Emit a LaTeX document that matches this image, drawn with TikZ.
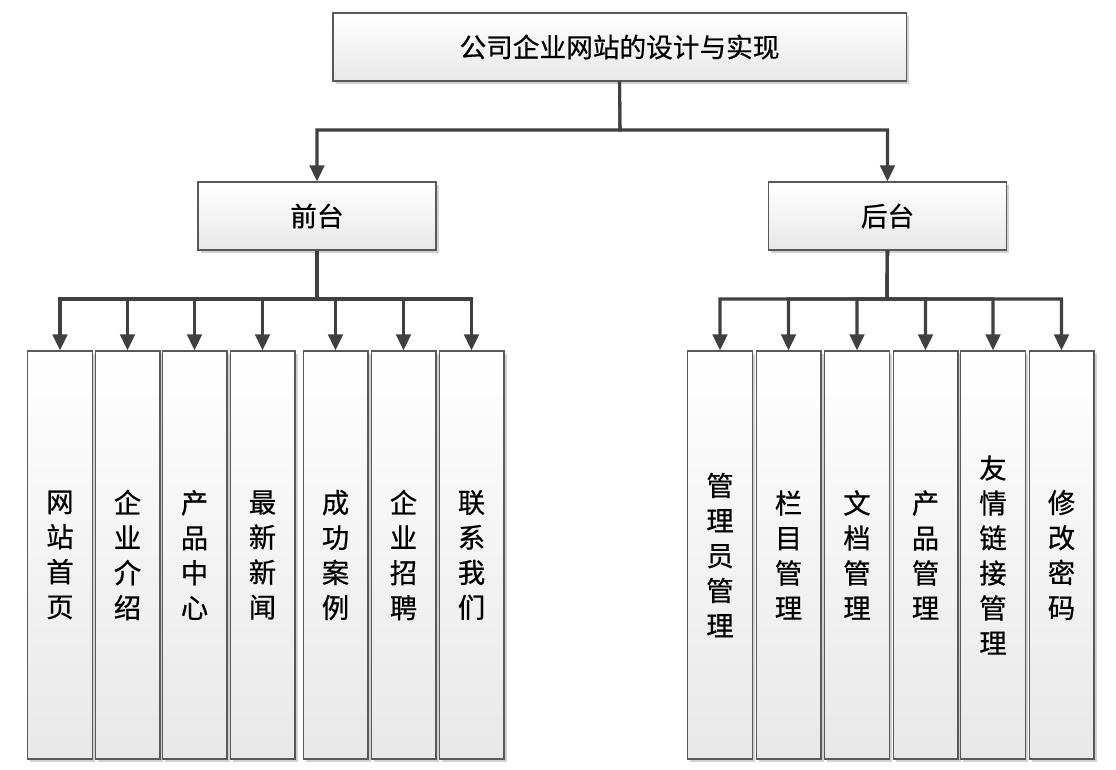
\documentclass[tikz,border=0pt]{standalone}
\usepackage{fontspec}
\newfontfamily\cjk[FakeBold=0.6]{Noto Sans CJK SC}
\usetikzlibrary{arrows.meta,shadows}

\tikzset{
  box/.style={draw=black!65, line width=1pt, top color=white, bottom color=black!9,
    drop shadow={shadow xshift=2pt, shadow yshift=-2pt, fill=black!30, opacity=.6},
    inner sep=0pt, font=\cjk\fontsize{20}{24}\selectfont},
  leaf/.style={box, minimum width=48.5pt, minimum height=306pt, align=center,
    font=\cjk\fontsize{20.5}{26.25}\selectfont},
  arr/.style={draw=black!75, line width=2.3pt, -{Triangle[width=11pt,length=12pt]}}
}

\begin{document}
\begin{tikzpicture}[x=0.75pt, y=-0.75pt]
\useasboundingbox (0,0) rectangle (1116,769);
\node[box, minimum width=430pt, minimum height=51pt] (site) at (619.5,47) {公司企业网站的设计与实现};
\node[box, minimum width=178.5pt, minimum height=51pt] (front) at (317,216) {前台};
\node[box, minimum width=178.5pt, minimum height=51pt] (back) at (887.5,216) {后台};
\coordinate (j0) at (620,130);
\coordinate (jf) at (317,299);
\coordinate (jb) at (887,299);
\draw[arr] (site.south) -- (j0) -| (front.north);
\draw[arr] (site.south) -- (j0) -| (back.north);
% front end
\foreach \i/\x/\t in {1/60/网\\站\\首\\页, 2/127.5/企\\业\\介\\绍, 3/194.5/产\\品\\中\\心,
    4/262.5/最\\新\\新\\闻, 5/335.5/成\\功\\案\\例, 6/403.5/企\\业\\招\\聘, 7/471.5/联\\系\\我\\们}{
  \node[leaf] (f\i) at (\x,555) {\t};
  \draw[arr] (front.south) -- (jf) -| (f\i.north);
}
% back end
\foreach \i/\x/\t in {1/720/管\\理\\员\\管\\理, 2/788.5/栏\\目\\管\\理, 3/857/文\\档\\管\\理,
    4/925.5/产\\品\\管\\理, 5/993/友\\情\\链\\接\\管\\理, 6/1061.5/修\\改\\密\\码}{
  \node[leaf] (b\i) at (\x,555) {\t};
  \draw[arr] (back.south) -- (jb) -| (b\i.north);
}
\end{tikzpicture}
\end{document}
